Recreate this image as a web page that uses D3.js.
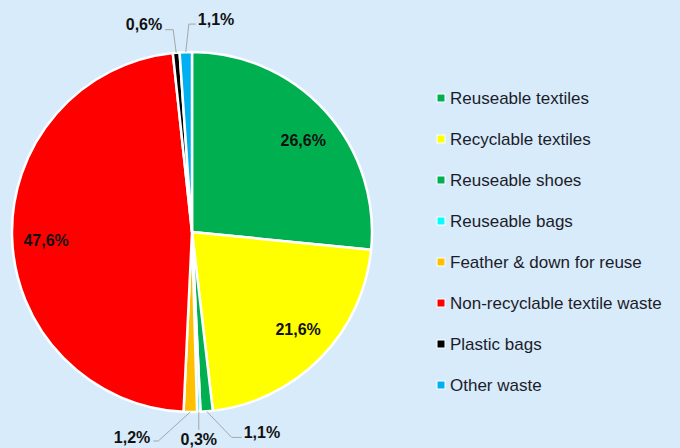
<!DOCTYPE html>
<html><head><meta charset="utf-8">
<script src="https://cdn.jsdelivr.net/npm/d3@7"></script>
<style>html,body{margin:0;padding:0;background:#d7ebfa;}svg{display:block;}</style>
</head><body>
<svg id="c" width="680" height="448"></svg>
<script>
const categories = ["Reuseable textiles","Recyclable textiles","Reuseable shoes","Reuseable bags","Feather & down for reuse","Non-recyclable textile waste","Plastic bags","Other waste"];
const values = [26.6, 21.6, 1.1, 0.3, 1.2, 47.6, 0.6, 1.1];
const labels = ["26,6%","21,6%","1,1%","0,3%","1,2%","47,6%","0,6%","1,1%"];
const colors = ["#00b050","#ffff00","#00b050","#00ffff","#ffc000","#ff0000","#000000","#00b0f0"];

const svg = d3.select("#c");
svg.append("rect").attr("width",680).attr("height",448).attr("fill","#d7ebfa");
const cx = 192, cy = 232, R = 180;
const g = svg.append("g").attr("transform",`translate(${cx},${cy})`);
const pie = d3.pie().sort(null).value(d=>d)(values);
const arc = d3.arc().innerRadius(0).outerRadius(R);
g.selectAll("path.s").data(pie).join("path").attr("class","s")
  .attr("d",arc).attr("fill",(d,i)=>colors[i]).attr("stroke","#ffffff").attr("stroke-width",2.5).attr("stroke-linejoin","round");

const font = "'Liberation Sans', Arial, sans-serif";
const inner = d3.arc().innerRadius(146).outerRadius(146);
const nudge = {0:[3,6], 1:[2,-5], 5:[0,4]};
pie.forEach((d,i)=>{
  if (values[i] > 5) {
    const [x,y] = inner.centroid(d);
    const n = nudge[i] || [0,0];
    g.append("text").attr("x",x+n[0]).attr("y",y+n[1]).attr("dy","0.35em").attr("text-anchor","middle")
      .attr("font-family",font).attr("font-weight","bold").attr("font-size",16).attr("fill","#111").text(labels[i]);
  }
});
// small slices: leader lines to outside labels (elbow offsets relative to arc edge)
const layout = {
  2: {elbow:[25,26], end:[35,26], anchor:"start", ty:-5},
  3: {elbow:[0,18], end:[0,18], anchor:"middle", ty:10},
  4: {elbow:[-32,29], end:[-37,29], anchor:"end", ty:-4},
  6: {elbow:[-3,-23], end:[-11,-23], anchor:"end", ty:-5},
  7: {elbow:[3,-28], end:[10,-28], anchor:"start", ty:-5}
};
const edge = d3.arc().innerRadius(R).outerRadius(R);
pie.forEach((d,i)=>{
  const L = layout[i]; if (!L) return;
  const [x0,y0] = edge.centroid(d);
  const e = [x0+L.elbow[0], y0+L.elbow[1]], t = [x0+L.end[0], y0+L.end[1]];
  g.append("polyline").attr("points",[[x0,y0],e,t].map(p=>p.join(",")).join(" "))
    .attr("fill","none").attr("stroke","#a6a6a6").attr("stroke-width",1);
  const tx = t[0] + (L.anchor==="start"?2:L.anchor==="end"?-3:0);
  const ty = t[1] + L.ty;
  g.append("text").attr("x",tx).attr("y",ty).attr("dy","0.35em").attr("text-anchor",L.anchor)
    .attr("font-family",font).attr("font-weight","bold").attr("font-size",16).attr("fill","#111").text(labels[i]);
});

// legend
const leg = svg.append("g").attr("transform","translate(437,98)");
const rows = leg.selectAll("g").data(categories).join("g").attr("transform",(d,i)=>`translate(0,${i*41})`);
rows.append("rect").attr("x",0).attr("y",-4).attr("width",8).attr("height",8).attr("fill",(d,i)=>colors[i]).attr("stroke","#fff").attr("stroke-width",1);
rows.append("text").attr("x",13).attr("y",0).attr("dy","0.35em").attr("font-family",font).attr("font-size",17).attr("fill","#1c1c2a").text(d=>d);
</script>
</body></html>
